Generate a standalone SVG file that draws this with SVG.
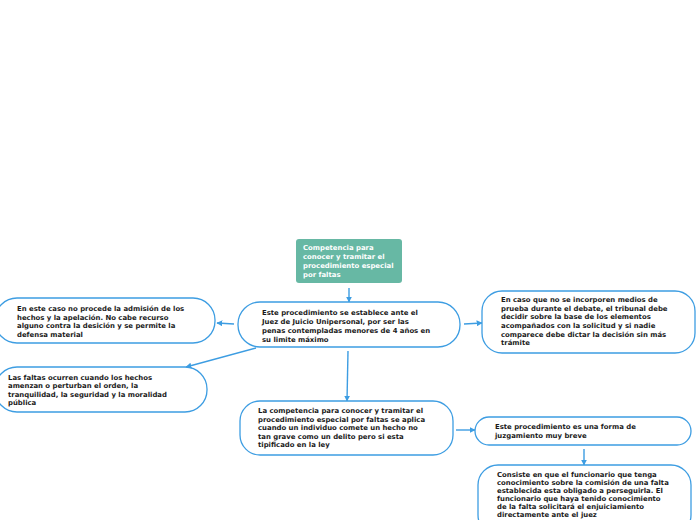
<svg xmlns="http://www.w3.org/2000/svg" width="696" height="520" viewBox="0 0 696 520">
<style>
.n{fill:#fff;stroke:#3d9de2;stroke-width:1.3}
.t{font-family:"DejaVu Sans",Verdana,sans-serif;font-weight:bold;font-size:6.9px;fill:#1a1a1a}
.w{fill:#fff}
.c{stroke:#3d9de2;stroke-width:1.4;fill:none;marker-end:url(#a)}
</style>
<defs>
<marker id="a" viewBox="0 0 10 10" refX="9" refY="5" markerWidth="6" markerHeight="6" markerUnits="userSpaceOnUse" orient="auto">
<path d="M0,0L10,5L0,10z" fill="#3d9de2"/>
</marker>
</defs>
<rect width="696" height="520" fill="#fff"/>
<g id="connectors">
<line class="c" x1="349" y1="288" x2="349" y2="302"/>
<line class="c" x1="234" y1="324" x2="217" y2="323"/>
<line class="c" x1="464" y1="324" x2="482" y2="323"/>
<line class="c" x1="256" y1="348" x2="186" y2="367"/>
<line class="c" x1="348" y1="351" x2="347" y2="401"/>
<line class="c" x1="456" y1="430" x2="475" y2="430"/>
<line class="c" x1="584" y1="449" x2="584" y2="465"/>
</g>
<g id="root">
<rect x="296" y="239" width="106" height="44" rx="3" fill="#67b8a4"/>
<text class="t w" x="303" y="250">Competencia para</text>
<text class="t w" x="303" y="259">conocer y tramitar el</text>
<text class="t w" x="303" y="268">procedimiento especial</text>
<text class="t w" x="303" y="277">por faltas</text>
</g>
<g id="main">
<rect class="n" x="238" y="302" width="222" height="45" rx="22"/>
<text class="t" x="262" y="315">Este procedimiento se establece ante el</text>
<text class="t" x="262" y="324">Juez de Juicio Unipersonal, por ser las</text>
<text class="t" x="262" y="333">penas contempladas menores de 4 años en</text>
<text class="t" x="262" y="342">su limite máximo</text>
</g>
<g id="left1">
<rect class="n" x="-5" y="298" width="220" height="45" rx="22"/>
<text class="t" x="17" y="311">En este caso no procede la admisión de los</text>
<text class="t" x="17" y="320">hechos y la apelación. No cabe recurso</text>
<text class="t" x="17" y="328">alguno contra la desición y se permite la</text>
<text class="t" x="17" y="337">defensa material</text>
</g>
<g id="right1">
<rect class="n" x="482" y="291" width="213" height="62" rx="20"/>
<text class="t" x="501" y="302">En caso que no se incorporen medios de</text>
<text class="t" x="501" y="311">prueba durante el debate, el tribunal debe</text>
<text class="t" x="501" y="319">decidir sobre la base de los elementos</text>
<text class="t" x="501" y="328">acompañados con la solicitud y si nadie</text>
<text class="t" x="501" y="337">comparece debe dictar la decisión sin más</text>
<text class="t" x="501" y="345">trámite</text>
</g>
<g id="left2">
<rect class="n" x="-5" y="367" width="212" height="45" rx="22"/>
<text class="t" x="8" y="380">Las faltas ocurren cuando los hechos</text>
<text class="t" x="8" y="388">amenzan o perturban el orden, la</text>
<text class="t" x="8" y="397">tranquilidad, la seguridad y la moralidad</text>
<text class="t" x="8" y="405">pública</text>
</g>
<g id="bottom">
<rect class="n" x="240" y="401" width="213" height="54" rx="20"/>
<text class="t" x="258" y="413">La competencia para conocer y tramitar el</text>
<text class="t" x="258" y="422">procedimiento especial por faltas se aplica</text>
<text class="t" x="258" y="430">cuando un individuo comete un hecho no</text>
<text class="t" x="258" y="439">tan grave como un delito pero si esta</text>
<text class="t" x="258" y="447">tipificado en la ley</text>
</g>
<g id="right2">
<rect class="n" x="475" y="417" width="216" height="28" rx="14"/>
<text class="t" x="495" y="429">Este procedimiento es una forma de</text>
<text class="t" x="495" y="438">juzgamiento muy breve</text>
</g>
<g id="right3">
<rect class="n" x="478" y="465" width="213" height="70" rx="20"/>
<text class="t" x="497" y="477">Consiste en que el funcionario que tenga</text>
<text class="t" x="497" y="485">conocimiento sobre la comisión de una falta</text>
<text class="t" x="497" y="493">establecida esta obligado a perseguirla. El</text>
<text class="t" x="497" y="501">funcionario que haya tenido conocimiento</text>
<text class="t" x="497" y="509">de la falta solicitará el enjuiciamiento</text>
<text class="t" x="497" y="517">directamente ante el juez</text>
</g>
</svg>
